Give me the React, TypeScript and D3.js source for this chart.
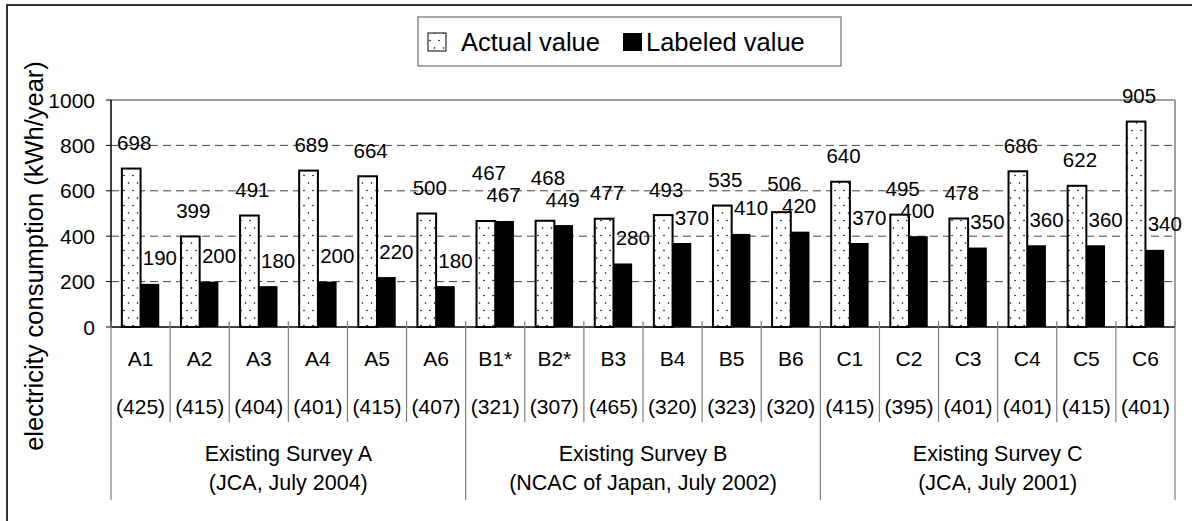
import React from 'react';
import * as d3 from 'd3';

const categories = ['A1', 'A2', 'A3', 'A4', 'A5', 'A6', 'B1*', 'B2*', 'B3', 'B4', 'B5', 'B6', 'C1', 'C2', 'C3', 'C4', 'C5', 'C6'];
const subLabels = ['(425)', '(415)', '(404)', '(401)', '(415)', '(407)', '(321)', '(307)', '(465)', '(320)', '(323)', '(320)', '(415)', '(395)', '(401)', '(401)', '(415)', '(401)'];
const actualValues = [698, 399, 491, 689, 664, 500, 467, 468, 477, 493, 535, 506, 640, 495, 478, 686, 622, 905];
const labeledValues = [190, 200, 180, 200, 220, 180, 467, 449, 280, 370, 410, 420, 370, 400, 350, 360, 360, 340];
const groupTitles = ['Existing Survey A', 'Existing Survey B', 'Existing Survey C'];
const groupSubtitles = ['(JCA, July 2004)', '(NCAC of Japan, July 2002)', '(JCA, July 2001)'];
const groupSize = 6;
const yTicks = [0, 200, 400, 600, 800, 1000];
const seriesNames = ['Actual value', 'Labeled value'];

const W = 1192;
const H = 521;
const left = 111;
const right = 1175;
const top = 100;
const bottom = 327;
const font = "Arial, 'Liberation Sans', sans-serif";

const App: React.FC = () => {
  const x = d3.scaleBand<string>().domain(categories).range([left, right]).padding(0);
  const inner = d3.scaleBand<string>().domain(['actual', 'labeled']).range([0, x.bandwidth()]).paddingInner(0).paddingOuter(0.58);
  const y = d3.scaleLinear().domain([0, 1000]).range([bottom, top]);
  const bw = inner.bandwidth();
  const labelGap = 26;

  // label positions; push the actual label up when it would hit the labeled one
  const labels = categories.map((c, i) => {
    const ax = (x(c) ?? 0) + (inner('actual') ?? 0) + bw / 2;
    const lx = (x(c) ?? 0) + (inner('labeled') ?? 0) + bw / 2;
    const ly = y(labeledValues[i]) - labelGap;
    let ay = y(actualValues[i]) - labelGap;
    const close = Math.abs(ay - ly) < 22;
    if (close) ay = Math.min(ay, ly - 22);
    return { ax: ax + 3, ay, lx: lx + (close ? -1 : 10), ly };
  });

  const groups = groupTitles.map((t, g) => {
    const x0 = x(categories[g * groupSize]) ?? 0;
    const x1 = (x(categories[g * groupSize + groupSize - 1]) ?? 0) + x.bandwidth();
    return { t, sub: groupSubtitles[g], x0, x1 };
  });

  return (
    <svg width={W} height={H} style={{ position: 'absolute', left: 0, top: 0, background: '#fff' }} fontFamily={font}>
      <defs>
        <pattern id="dots" width="9" height="15" patternUnits="userSpaceOnUse">
          <rect width="9" height="15" fill="#fff" />
          <circle cx="2.5" cy="3" r="0.8" fill="#000" />
          <circle cx="7" cy="10.5" r="0.8" fill="#000" />
        </pattern>
      </defs>
      <rect x={7} y={5} width={W + 20} height={H + 20} fill="#fff" stroke="#333" strokeWidth={2} />

      {/* legend */}
      <rect x={418} y={17} width={423} height={49} fill="#fff" stroke="#555" strokeWidth={1} />
      <rect x={428} y={33} width={18} height={18} fill="url(#dots)" stroke="#000" strokeWidth={1} />
      <text x={461} y={51} fontSize={25.5}>{seriesNames[0]}</text>
      <rect x={623} y={33} width={19} height={18} fill="#000" />
      <text x={646} y={51} fontSize={25.5}>{seriesNames[1]}</text>

      {/* plot frame and grid */}
      <line x1={left} x2={right} y1={top} y2={top} stroke="#808080" strokeWidth={1.5} />
      <line x1={right} x2={right} y1={top} y2={bottom} stroke="#808080" strokeWidth={1.5} />
      {yTicks.filter(t => t > 0 && t < 1000).map(t => (
        <line key={t} x1={left} x2={right} y1={y(t)} y2={y(t)} stroke="#444" strokeWidth={1} strokeDasharray="8,5" />
      ))}

      {/* bars */}
      {categories.map((c, i) => (
        <g key={c}>
          <rect x={(x(c) ?? 0) + (inner('actual') ?? 0)} y={y(actualValues[i])} width={bw} height={bottom - y(actualValues[i])}
            fill="url(#dots)" stroke="#000" strokeWidth={2} />
          <rect x={(x(c) ?? 0) + (inner('labeled') ?? 0)} y={y(labeledValues[i])} width={bw} height={bottom - y(labeledValues[i])}
            fill="#000" />
        </g>
      ))}

      {/* data labels */}
      {labels.map((l, i) => (
        <g key={i} fontSize={20.5} textAnchor="middle" dominantBaseline="central">
          <text x={l.ax} y={l.ay}>{actualValues[i]}</text>
          <text x={l.lx} y={l.ly}>{labeledValues[i]}</text>
        </g>
      ))}

      {/* y axis */}
      <line x1={left} x2={left} y1={top} y2={bottom} stroke="#000" strokeWidth={1.5} />
      {yTicks.map(t => (
        <g key={t}>
          <line x1={left - 5} x2={left} y1={y(t)} y2={y(t)} stroke="#000" strokeWidth={1} />
          <text x={95} y={y(t)} fontSize={21} textAnchor="end" dominantBaseline="central">{t}</text>
        </g>
      ))}
      <text transform="translate(43,256) rotate(-90)" fontSize={25.5} textAnchor="middle">
        electricity consumption (kWh/year)
      </text>

      {/* category axis */}
      <line x1={left} x2={right} y1={bottom} y2={bottom} stroke="#000" strokeWidth={1.5} />
      {categories.map((c, i) => {
        const cx = (x(c) ?? 0) + x.bandwidth() / 2;
        return (
          <g key={c} fontSize={21} textAnchor="middle" dominantBaseline="central">
            <text x={cx} y={358}>{c}</text>
            <text x={cx} y={406}>{subLabels[i]}</text>
          </g>
        );
      })}
      {categories.map((c, i) => {
        const bx = x(c) ?? 0;
        const isGroup = i % groupSize === 0;
        return <line key={c} x1={bx} x2={bx} y1={bottom - 6} y2={isGroup ? 500 : 422} stroke="#808080" strokeWidth={1.2} />;
      })}
      <line x1={right} x2={right} y1={bottom - 6} y2={500} stroke="#808080" strokeWidth={1.2} />
      {groups.map(g => (
        <g key={g.t} fontSize={21.5} textAnchor="middle" dominantBaseline="central">
          <text x={(g.x0 + g.x1) / 2} y={454}>{g.t}</text>
          <text x={(g.x0 + g.x1) / 2} y={483}>{g.sub}</text>
        </g>
      ))}
    </svg>
  );
};

export default App;
